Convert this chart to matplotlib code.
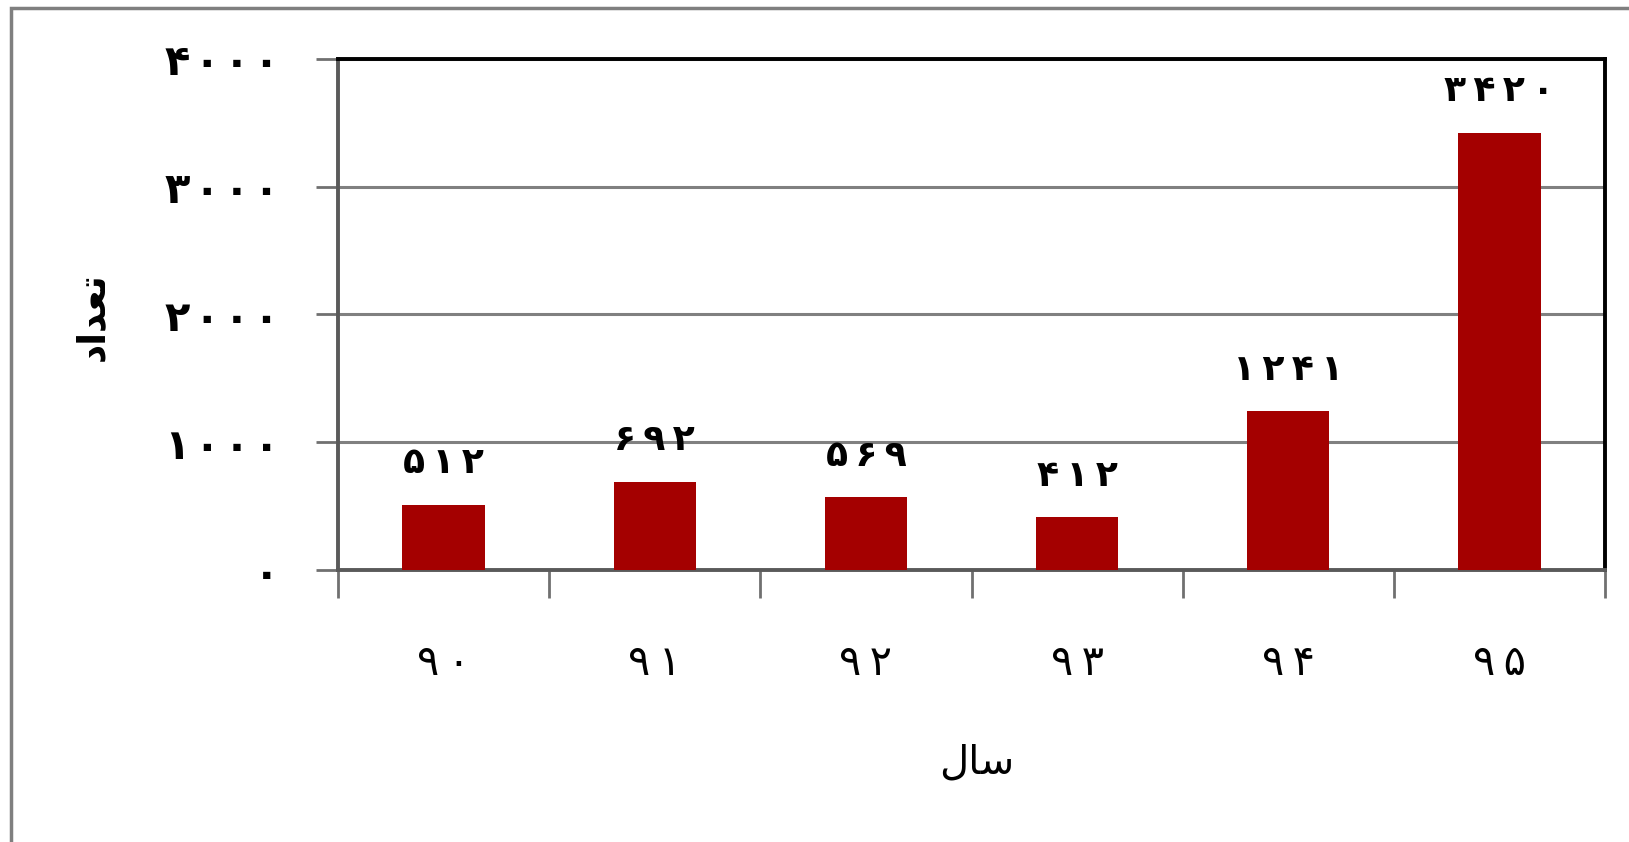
import matplotlib
matplotlib.use("Agg")
import matplotlib.pyplot as plt
from matplotlib.patches import Rectangle
import numpy as np

# Data
years = [90, 91, 92, 93, 94, 95]
counts = [512, 692, 569, 412, 1241, 3420]
y_ticks = [0, 1000, 2000, 3000, 4000]
x_title = "سال"
y_title = "تعداد"

PERSIAN_DIGITS = str.maketrans("0123456789", "۰۱۲۳۴۵۶۷۸۹")

# Contextual forms: isolated, final, initial, medial
FORMS = {
    "س": ("\uFEB1", "\uFEB2", "\uFEB3", "\uFEB4"),
    "ا": ("\uFE8D", "\uFE8E", None, None),
    "ل": ("\uFEDD", "\uFEDE", "\uFEDF", "\uFEE0"),
    "ت": ("\uFE95", "\uFE96", "\uFE97", "\uFE98"),
    "ع": ("\uFEC9", "\uFECA", "\uFECB", "\uFECC"),
    "د": ("\uFEA9", "\uFEAA", None, None),
}


def shape(text):
    """Join Persian letters and return them in visual (left-to-right) order."""
    out = []
    n = len(text)
    for i, ch in enumerate(text):
        f = FORMS.get(ch)
        if f is None:
            out.append(ch)
            continue
        prev = FORMS.get(text[i - 1]) if i > 0 else None
        nxt = FORMS.get(text[i + 1]) if i < n - 1 else None
        join_prev = prev is not None and prev[2] is not None
        join_next = nxt is not None and f[2] is not None
        if join_prev and join_next:
            out.append(f[3])
        elif join_prev:
            out.append(f[1])
        elif join_next:
            out.append(f[2])
        else:
            out.append(f[0])
    return "".join(reversed(out))


def fa_num(v, sep="\u200a"):
    return sep.join(str(v).translate(PERSIAN_DIGITS))


plt.rcParams["font.family"] = ["DejaVu Sans"]

fig = plt.figure(figsize=(16.29, 8.42), dpi=100)
fig.patch.set_facecolor("white")

# Outer chart frame (runs past the right and bottom edges)
fig.patches.append(Rectangle((11 / 1629, -0.05), 1.2, 1 - 8 / 842 + 0.05,
                             transform=fig.transFigure, fill=False,
                             edgecolor="#7f7f7f", linewidth=2.5, zorder=0))

ax = fig.add_axes([0.2075, 0.323, 0.7778, 0.607])

x = np.arange(len(years))
ax.bar(x, counts, width=0.39, color="#a40000", zorder=3)

ax.set_xlim(-0.5, len(years) - 0.5)
ax.set_ylim(0, 4000)

ax.set_yticks(y_ticks)
ax.set_yticklabels([fa_num(t) for t in y_ticks], fontsize=30, fontweight="bold")
ax.yaxis.grid(True, color="#808080", linewidth=2.2, zorder=1)
ax.set_axisbelow(True)
ax.tick_params(axis="y", length=16, width=2, color="#707070", pad=26)

ax.set_xticks(x)
ax.set_xticklabels([fa_num(y, "\u2009") for y in years], fontsize=30)
ax.set_xticks(np.arange(len(years) + 1) - 0.5, minor=True)
ax.tick_params(axis="x", which="major", length=0, pad=52)
ax.tick_params(axis="x", which="minor", length=20, width=2, color="#707070")

for spine in ("left", "bottom"):
    ax.spines[spine].set_color("#5a5a5a")
    ax.spines[spine].set_linewidth(2.8)
for spine in ("top", "right"):
    ax.spines[spine].set_color("#000000")
    ax.spines[spine].set_linewidth(2.8)

# Value labels above bars
for xi, v in zip(x, counts):
    ax.annotate(fa_num(v, "\u2009"), xy=(xi, v), xytext=(0, 30),
                textcoords="offset points", ha="center", va="center",
                fontsize=26, fontweight="bold")

fig.text(977 / 1629, 1 - 762 / 842, shape(x_title), ha="center", va="center",
         fontsize=29)
fig.text(94 / 1629, 1 - 317 / 842, shape(y_title), ha="center", va="center",
         rotation=90, fontsize=27, fontweight="bold")

fig.savefig("out.png", dpi=100, facecolor="white")
